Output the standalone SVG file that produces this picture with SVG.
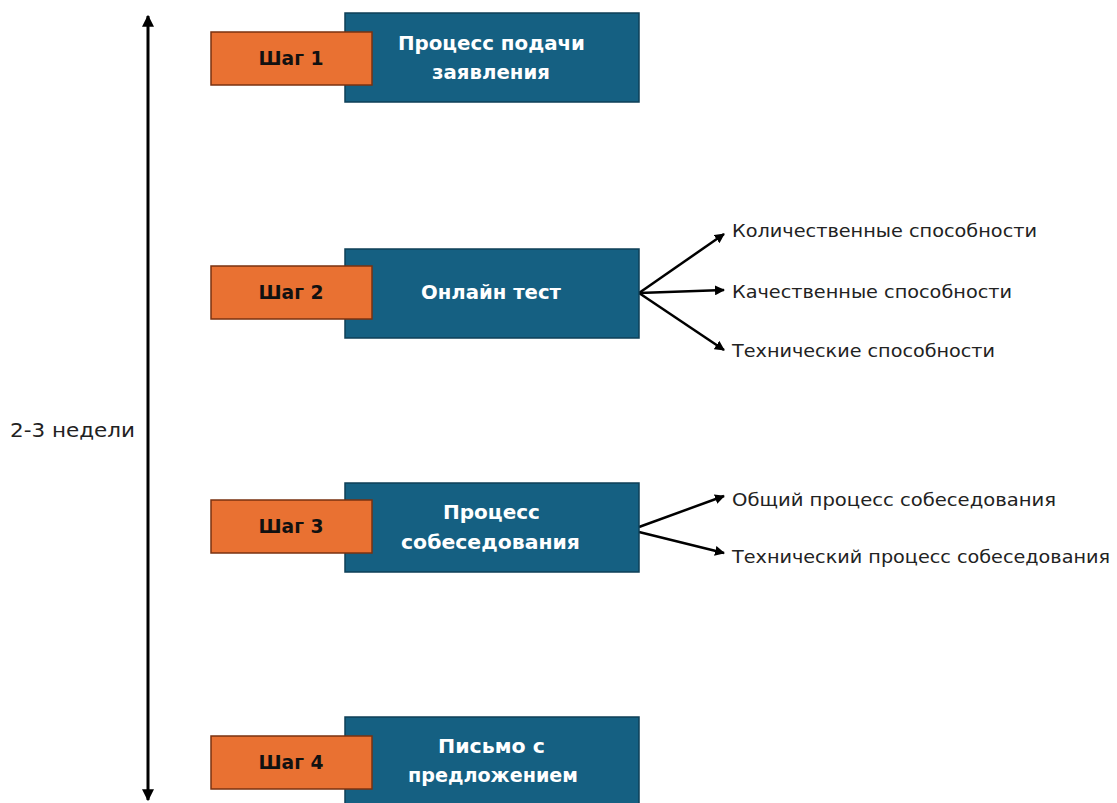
<svg xmlns="http://www.w3.org/2000/svg" width="1117" height="803" viewBox="0 0 1117 803">
<style>
.blue{fill:#156082;stroke:#0E3F57;stroke-width:1.5}
.orange{fill:#E97132;stroke:#7A3210;stroke-width:1.5}
.bt{font-family:"DejaVu Sans","Liberation Sans",sans-serif;font-weight:bold;font-size:19px;fill:#fff;text-anchor:middle}
.ot{font-family:"DejaVu Sans","Liberation Sans",sans-serif;font-weight:bold;font-size:19px;fill:#111;text-anchor:middle}
.lb{font-family:"DejaVu Sans","Liberation Sans",sans-serif;font-size:17.5px;fill:#222}
.ln{stroke:#000;stroke-width:2.5;fill:none}
</style>
<defs>
<marker id="ah" viewBox="0 0 10 10" refX="9" refY="5" markerWidth="4" markerHeight="4" orient="auto"><path d="M0,0 L10,5 L0,10 z" fill="#000"/></marker>
<marker id="vh" viewBox="0 0 10 10" refX="9" refY="5" markerWidth="4" markerHeight="4" orient="auto-start-reverse"><path d="M0,0 L10,5 L0,10 z" fill="#000"/></marker>
</defs>
<g id="connectors">
<line x1="148" y1="16" x2="148" y2="800" stroke="#000" stroke-width="3" marker-start="url(#vh)" marker-end="url(#vh)"/>
<line class="ln" x1="639" y1="293" x2="724" y2="234" marker-end="url(#ah)"/>
<line class="ln" x1="639" y1="293" x2="724" y2="290" marker-end="url(#ah)"/>
<line class="ln" x1="639" y1="293" x2="724" y2="350" marker-end="url(#ah)"/>
<line class="ln" x1="639" y1="527" x2="724" y2="496" marker-end="url(#ah)"/>
<line class="ln" x1="639" y1="532" x2="724" y2="553" marker-end="url(#ah)"/>
</g>
<text class="lb" x="10" y="437" style="font-size:20px" textLength="125" lengthAdjust="spacingAndGlyphs">2-3 недели</text>
<g id="step1">
<rect class="blue" x="345" y="13" width="294" height="89"/>
<rect class="orange" x="211" y="32" width="161" height="53"/>
<text class="ot" x="291" y="65" textLength="65" lengthAdjust="spacingAndGlyphs">Шаг 1</text>
<text class="bt" x="491.5" y="50" textLength="187" lengthAdjust="spacingAndGlyphs">Процесс подачи</text>
<text class="bt" x="491" y="79" textLength="118" lengthAdjust="spacingAndGlyphs">заявления</text>
</g>
<g id="step2">
<rect class="blue" x="345" y="249" width="294" height="89"/>
<rect class="orange" x="211" y="266" width="161" height="53"/>
<text class="ot" x="291" y="299" textLength="65" lengthAdjust="spacingAndGlyphs">Шаг 2</text>
<text class="bt" x="491" y="299" textLength="140" lengthAdjust="spacingAndGlyphs">Онлайн тест</text>
</g>
<g id="step3">
<rect class="blue" x="345" y="483" width="294" height="89"/>
<rect class="orange" x="211" y="500" width="161" height="53"/>
<text class="ot" x="291" y="533" textLength="65" lengthAdjust="spacingAndGlyphs">Шаг 3</text>
<text class="bt" x="491.5" y="519" textLength="97" lengthAdjust="spacingAndGlyphs">Процесс</text>
<text class="bt" x="490.5" y="549" textLength="179" lengthAdjust="spacingAndGlyphs">собеседования</text>
</g>
<g id="step4">
<rect class="blue" x="345" y="717" width="294" height="95"/>
<rect class="orange" x="211" y="736" width="161" height="53"/>
<text class="ot" x="291" y="769" textLength="65" lengthAdjust="spacingAndGlyphs">Шаг 4</text>
<text class="bt" x="491.5" y="753" textLength="107" lengthAdjust="spacingAndGlyphs">Письмо с</text>
<text class="bt" x="493" y="782" textLength="170" lengthAdjust="spacingAndGlyphs">предложением</text>
</g>
<g id="labels">
<text class="lb" x="732" y="237" textLength="305" lengthAdjust="spacingAndGlyphs">Количественные способности</text>
<text class="lb" x="732" y="298" textLength="280" lengthAdjust="spacingAndGlyphs">Качественные способности</text>
<text class="lb" x="732" y="357" textLength="263" lengthAdjust="spacingAndGlyphs">Технические способности</text>
<text class="lb" x="732" y="506" textLength="324" lengthAdjust="spacingAndGlyphs">Общий процесс собеседования</text>
<text class="lb" x="732" y="563" textLength="378" lengthAdjust="spacingAndGlyphs">Технический процесс собеседования</text>
</g>
</svg>
